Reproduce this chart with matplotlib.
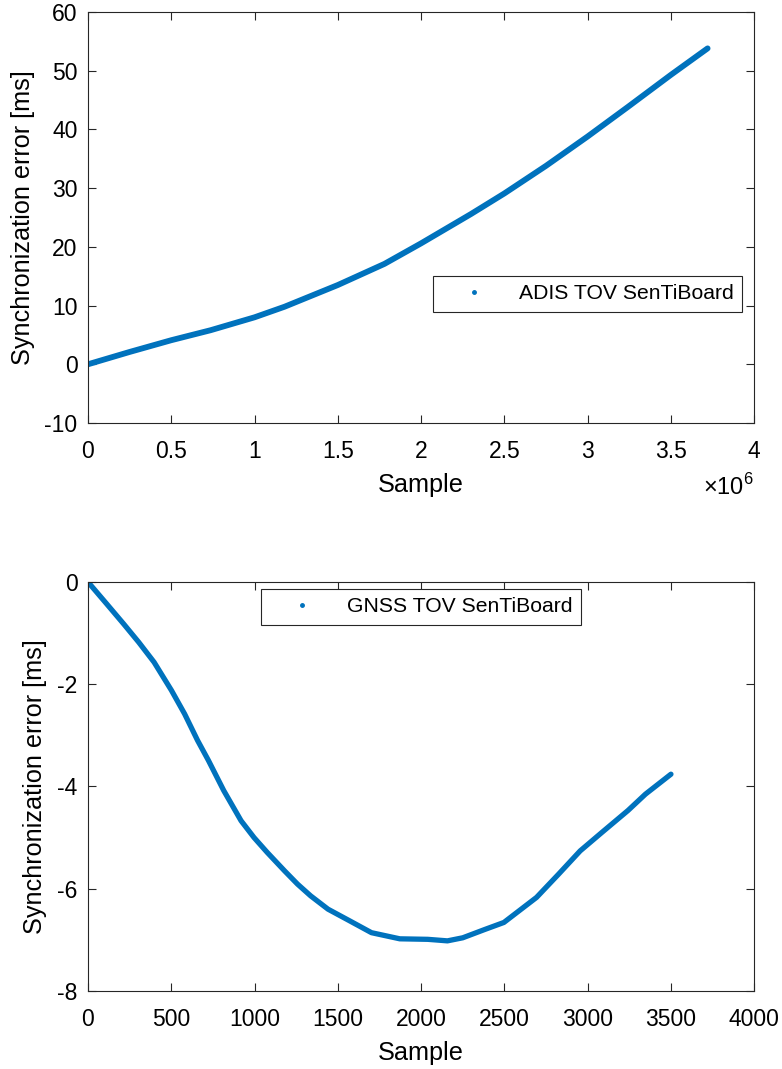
import matplotlib
matplotlib.use("Agg")
import matplotlib.pyplot as plt
from matplotlib.ticker import FuncFormatter

plt.rcParams['font.family'] = ['Liberation Sans', 'DejaVu Sans']
plt.rcParams['mathtext.fontset'] = 'custom'
plt.rcParams['mathtext.rm'] = 'Liberation Sans'
plt.rcParams['axes.unicode_minus'] = False

# ADIS TOV sync error vs sample
adis_sample = [0, 0.25e6, 0.5e6, 0.736e6, 1.0e6, 1.18e6, 1.5e6, 1.78e6, 2.0e6,
               2.30e6, 2.50e6, 2.75e6, 3.0e6, 3.24e6, 3.50e6, 3.72e6]
adis_error = [0.0, 2.1, 4.1, 5.8, 8.0, 9.8, 13.5, 17.1, 20.6,
              25.6, 29.1, 33.8, 38.8, 43.8, 49.3, 53.8]

# GNSS TOV sync error vs sample
gnss_sample = [0, 110, 214, 305, 397, 501, 580, 658, 723, 815, 919, 997, 1076,
               1180, 1258, 1337, 1441, 1572, 1702, 1872, 2040, 2158, 2250, 2380,
               2497, 2589, 2693, 2824, 2955, 3085, 3242, 3347, 3500]
gnss_error = [0.0, -0.42, -0.82, -1.18, -1.57, -2.12, -2.58, -3.10, -3.49, -4.08,
              -4.67, -5.00, -5.29, -5.65, -5.91, -6.14, -6.40, -6.63, -6.86, -6.98,
              -6.99, -7.02, -6.96, -6.80, -6.66, -6.43, -6.17, -5.72, -5.26, -4.90,
              -4.47, -4.15, -3.76]

blue = '#0072BD'
axc = '#262626'
tick_fs = 16.5
label_fs = 18.2
legend_fs = 15.2

fig = plt.figure(figsize=(7.82, 10.69), dpi=100)
ax1 = fig.add_axes([0.1125, 0.6043, 0.852, 0.3845])
ax2 = fig.add_axes([0.1125, 0.0730, 0.852, 0.3826])


def style(ax):
    for s in ax.spines.values():
        s.set_color(axc)
        s.set_linewidth(0.8)
    ax.tick_params(direction='in', top=True, right=True, length=6, width=0.8,
                   colors=axc, labelsize=tick_fs)
    ax.tick_params(axis='x', pad=12.5)
    ax.tick_params(axis='y', pad=7.5)
    for lab in ax.get_xticklabels() + ax.get_yticklabels():
        lab.set_color('black')


def legend(ax, center):
    leg = ax.legend(loc='center', bbox_to_anchor=center, fontsize=legend_fs,
                    fancybox=False, framealpha=1, edgecolor=axc, numpoints=1,
                    handlelength=3.1, handletextpad=0.56, borderpad=0.4,
                    borderaxespad=0)
    leg.get_frame().set_linewidth(0.8)


# top panel
ax1.plot(adis_sample, adis_error, color=blue, lw=4.2, solid_capstyle='round',
         solid_joinstyle='round')
ax1.plot([], [], '.', color=blue, ms=5, label='ADIS TOV SenTiBoard')
ax1.set_xlim(0, 4e6)
ax1.set_ylim(-10, 60)
ax1.set_xticks([i * 0.5e6 for i in range(9)])
ax1.set_yticks(range(-10, 61, 10))
ax1.xaxis.set_major_formatter(FuncFormatter(lambda v, p: f'{v / 1e6:g}'))
ax1.set_xlabel('Sample', fontsize=label_fs, labelpad=7)
ax1.set_ylabel('Synchronization error [ms]', fontsize=label_fs, labelpad=7)
ax1.text(1.0, -0.156, r'$\times10^{6}$', transform=ax1.transAxes,
         ha='right', va='center', fontsize=17)
style(ax1)
legend(ax1, (0.75, 0.314))

# bottom panel
ax2.plot(gnss_sample, gnss_error, color=blue, lw=3.8, solid_capstyle='round',
         solid_joinstyle='round')
ax2.plot([], [], '.', color=blue, ms=5, label='GNSS TOV SenTiBoard')
ax2.set_xlim(0, 4000)
ax2.set_ylim(-8, 0)
ax2.set_xticks(range(0, 4001, 500))
ax2.set_yticks(range(-8, 1, 2))
ax2.set_xlabel('Sample', fontsize=label_fs, labelpad=7)
ax2.set_ylabel('Synchronization error [ms]', fontsize=label_fs, labelpad=7)
style(ax2)
legend(ax2, (0.5, 0.9396))

fig.savefig('out.png', dpi=100)
